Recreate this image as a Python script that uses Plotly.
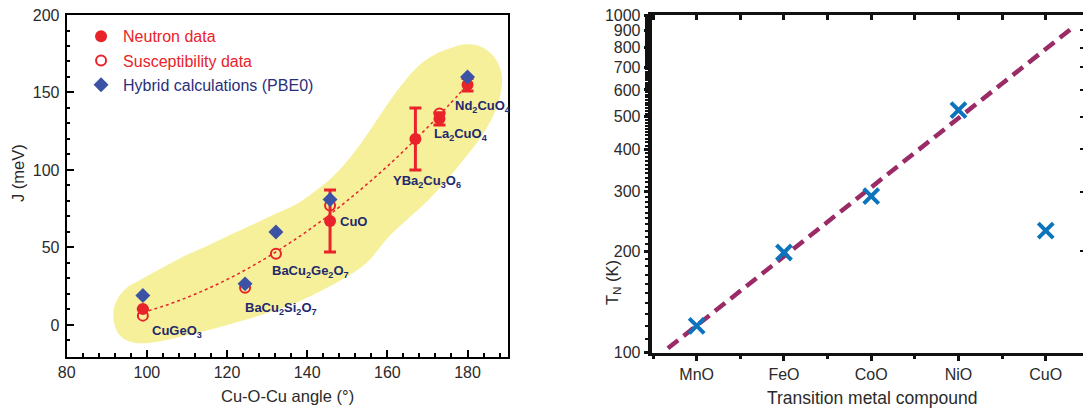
import plotly.graph_objects as go

# ---------------- left panel: superexchange J vs Cu-O-Cu bond angle ----------------
neutron_angle = [99, 145.7, 167, 173, 180]
neutron_j = [10.3, 67, 120, 133, 155]
neutron_err = [0, 20, 20, 4, 4]

susc_angle = [99, 124.5, 132.2, 145.7, 173]
susc_j = [6, 24, 46, 77, 136.5]

pbe0_angle = [99, 124.5, 132.2, 145.7, 180]
pbe0_j = [19, 26.5, 60, 81, 160]

# guide-to-the-eye curve through the experimental points
fit_angle = [99, 105, 110, 115, 120, 125, 130, 135, 140, 145, 150, 155, 160, 165, 170, 175, 180]
fit_j = [8, 12.9, 17.7, 23.2, 29.3, 36.1, 43.6, 51.8, 60.5, 70, 80.2, 91, 102.4, 114.6, 127.4, 140.9, 155]

# outline of the shaded band (angle, J)
band_angle = [91.6, 92.5, 95, 98.3, 104, 109, 115, 121.5, 127, 132.4, 138, 142.3, 146.5, 150.7,
              155, 159, 163, 167.3, 171.5, 175.6, 179, 182.2, 185, 187.2, 188.5, 188.5, 187.5,
              185, 182.2, 178.5, 174.8, 170, 164.8, 160, 154.8, 148.5, 142.3, 136, 129.9,
              123.5, 117.4, 111, 104.9, 99.1, 95.5, 93, 91.6]
band_j = [6, 16, 24, 29, 37, 44, 51, 59, 65.5, 72, 79, 87, 96, 108,
          123, 138.5, 153, 166, 174, 178.5, 181, 180.6, 177, 171, 162, 153, 142,
          128, 117, 105, 93.5, 80, 67.7, 56, 40, 29, 20.5, 13, 7.5,
          2.5, -2, -6, -9.7, -11.8, -10.5, -6, 6]

compound_names = ["CuGeO<sub>3</sub>", "BaCu<sub>2</sub>Si<sub>2</sub>O<sub>7</sub>",
                  "BaCu<sub>2</sub>Ge<sub>2</sub>O<sub>7</sub>", "CuO",
                  "YBa<sub>2</sub>Cu<sub>3</sub>O<sub>6</sub>", "La<sub>2</sub>CuO<sub>4</sub>",
                  "Nd<sub>2</sub>CuO<sub>4</sub>"]
compound_angle = [99, 124.5, 132.2, 145.7, 167, 173, 180]
compound_j = [10.3, 24, 46, 67, 120, 133, 155]

# ---------------- right panel: Neel temperature of transition metal monoxides ----------------
tm_compounds = ["MnO", "FeO", "CoO", "NiO", "CuO"]
neel_temp = [120, 198, 291, 523, 230]
trend_pos = [-0.33, 4.28]
trend_temp = [103, 905]

RED = "#e8232a"
BLUE = "#3b52a5"
NAVY = "#1f2a6e"
FONT = "Liberation Sans, Arial, Helvetica, sans-serif"
TICKC = "#2a2a2a"

fig = go.Figure()

fig.add_trace(go.Scatter(x=band_angle, y=band_j, mode="lines", line=dict(shape="spline", width=0, smoothing=1.0),
                         fill="toself", fillcolor="rgb(246,240,155)", showlegend=False, hoverinfo="skip"))
fig.add_trace(go.Scatter(x=fit_angle, y=fit_j, mode="lines", line=dict(color=RED, width=1.5, dash="3px,3px", shape="spline"),
                         showlegend=False, hoverinfo="skip"))
fig.add_trace(go.Scatter(x=neutron_angle, y=neutron_j, mode="markers",
                         marker=dict(size=6, color=RED, opacity=0),
                         error_y=dict(type="data", array=neutron_err, color=RED, thickness=3, width=6),
                         showlegend=False, hoverinfo="skip"))
fig.add_trace(go.Scatter(x=susc_angle, y=susc_j, mode="markers", name='<span style="color:#e8232a">Susceptibility data</span>',
                         marker=dict(symbol="circle-open", size=10, color=RED, line=dict(width=2, color=RED)),
                         legendrank=2, legendgroup="b"))
fig.add_trace(go.Scatter(x=neutron_angle, y=neutron_j, mode="markers", name='<span style="color:#e8232a">Neutron data</span>',
                         marker=dict(symbol="circle", size=12, color=RED),
                         legendrank=1, legendgroup="a"))
fig.add_trace(go.Scatter(x=pbe0_angle, y=pbe0_j, mode="markers", name="Hybrid calculations (PBE0)",
                         marker=dict(symbol="diamond", size=11.5, color=BLUE),
                         legendrank=3, legendgroup="c"))

# ---------------- right panel traces ----------------
pos = list(range(len(tm_compounds)))
fig.add_trace(go.Scatter(x=trend_pos, y=trend_temp, mode="lines", xaxis="x2", yaxis="y2",
                         line=dict(color="#9a2b67", width=4.5, dash="13px,7px"), showlegend=False, hoverinfo="skip"))
fig.add_trace(go.Scatter(x=pos, y=neel_temp, mode="markers", xaxis="x2", yaxis="y2",
                         marker=dict(symbol="x-thin", size=15, color="#0b74bd", line=dict(width=4, color="#0b74bd")),
                         showlegend=False))
# helper trace for the top / right tick axes
fig.add_trace(go.Scatter(x=[None], y=[None], xaxis="x3", yaxis="y3", showlegend=False, hoverinfo="skip"))

W, H = 1083, 410
ann = []
# compound labels: (xshift, yshift) in pixels from each compound's point
label_offsets = [(6.7, -22.7), (-1.8, -20.5), (-6, -18), (7.5, 0), (-24, -42.7), (-7.5, -16), (-14.5, -22)]
for name, a, j, (dx, dy) in zip(compound_names, compound_angle, compound_j, label_offsets):
    ann.append(dict(x=a, y=j, xref="x", yref="y", text="<b>" + name + "</b>", showarrow=False,
                    xanchor="left", yanchor="middle", xshift=dx, yshift=dy,
                    font=dict(family=FONT, size=13, color=NAVY)))

def px_ann(text, xp, yp, angle=0, size=16, color=TICKC):
    return dict(x=xp / W, y=1 - yp / H, xref="paper", yref="paper", text=text, showarrow=False,
                xanchor="center", yanchor="middle", textangle=angle, font=dict(family=FONT, size=size, color=color))

ann.append(px_ann("J (meV)", 18, 173, -90, 16.5))
ann.append(px_ann("Cu-O-Cu angle (°)", 287, 396, 0, 16.5))
ann.append(px_ann("T<sub>N</sub> (K)", 613, 283, -90, 16.5))
ann.append(px_ann("Transition metal compound", 871.7, 398.3, 0, 17.5))

minor_k = [v for v in range(110, 1000, 10) if v % 100 != 0]

fig.update_layout(
    width=W, height=H, margin=dict(l=0, r=0, t=0, b=0, pad=0, autoexpand=False),
    paper_bgcolor="white", plot_bgcolor="rgba(0,0,0,0)",
    font=dict(family=FONT, size=16, color=TICKC),
    showlegend=True,
    legend=dict(x=0.073, y=0.953, xanchor="left", yanchor="top", bgcolor="rgba(0,0,0,0)",
                font=dict(family=FONT, size=16, color="#2a2f7a"), tracegroupgap=0.5, itemwidth=34,
                itemclick=False),
    annotations=ann,
    xaxis=dict(domain=[66.7 / W, 507.6 / W], range=[80, 190], anchor="y", automargin=False,
               showline=True, linecolor="black", linewidth=2, mirror=True, showgrid=False, zeroline=False,
               ticks="inside", ticklen=7, tickwidth=1.5, tickcolor="black", dtick=20, tick0=80,
               minor=dict(ticks="inside", ticklen=3.5, tickwidth=1.5, tickcolor="black", dtick=4, showgrid=False),
               tickfont=dict(size=16, color=TICKC)),
    yaxis=dict(domain=[(H - 356.7) / H, (H - 15) / H], range=[-20.5, 200], anchor="x", automargin=False,
               showline=True, linecolor="black", linewidth=2, mirror=True, showgrid=False, zeroline=False,
               ticks="inside", ticklen=7, tickwidth=1.5, tickcolor="black", dtick=50, tick0=0,
               minor=dict(ticks="inside", ticklen=3.5, tickwidth=1.5, tickcolor="black", dtick=10, showgrid=False),
               tickfont=dict(size=16, color=TICKC), ticklabelstandoff=2),
    xaxis2=dict(domain=[651.7 / W, 1.0], range=[-0.5156, 4.427], anchor="y2", automargin=False,
                showline=True, linecolor="#111", linewidth=3, showgrid=False, zeroline=False,
                tickvals=pos, ticktext=tm_compounds, ticks="outside", ticklen=5, tickwidth=3, tickcolor="#111",
                minor=dict(tickvals=[-0.5, 0.5, 1.5, 2.5, 3.5], ticks="outside", ticklen=3, tickwidth=2.5,
                           tickcolor="#111", showgrid=False),
                tickfont=dict(size=16, color=TICKC)),
    yaxis2=dict(domain=[(H - 352.7) / H, (H - 15) / H], type="log", range=[2, 3], anchor="x2", automargin=False,
                showline=True, linecolor="#111", linewidth=4, showgrid=False, zeroline=False,
                tickvals=[100, 200, 300, 400, 500, 600, 700, 800, 900, 1000],
                ticks="outside", ticklen=4, tickwidth=3, tickcolor="#111",
                minor=dict(tickvals=minor_k, ticks="outside", ticklen=3, tickwidth=2, tickcolor="#111", showgrid=False),
                tickfont=dict(size=16, color=TICKC)),
    xaxis3=dict(overlaying="x2", side="top", anchor="y3", range=[-0.5156, 4.427], automargin=False,
                showline=True, linecolor="#111", linewidth=2.5, showgrid=False, zeroline=False,
                tickvals=[-0.5, 0, 0.5, 1, 1.5, 2, 2.5, 3, 3.5, 4], ticks="inside", ticklen=5, tickwidth=3,
                tickcolor="#111", showticklabels=False),
    yaxis3=dict(overlaying="y2", side="right", anchor="x3", type="log", range=[2, 3], automargin=False,
                showline=False, showgrid=False, zeroline=False,
                tickvals=[200, 300, 400, 500, 600, 700, 800, 900], ticks="inside", ticklen=3, tickwidth=2,
                tickcolor="#111", showticklabels=False),
)

fig.write_html("out.html")
